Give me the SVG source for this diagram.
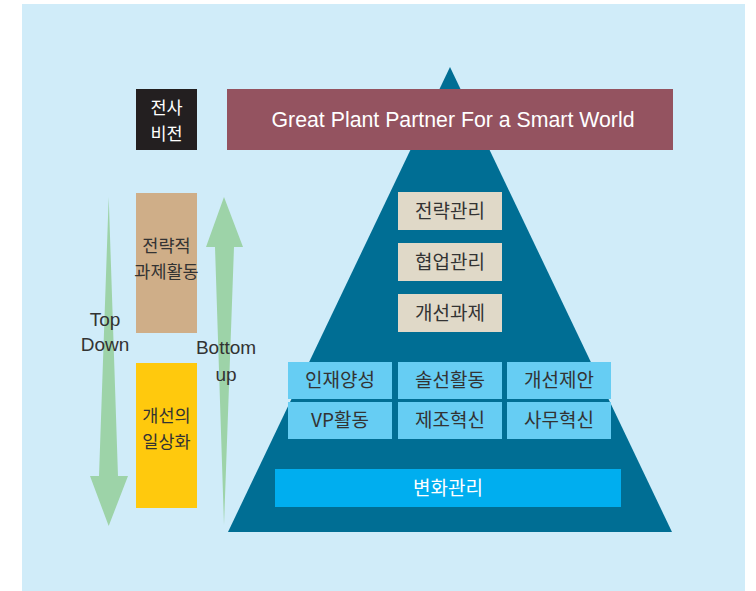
<svg xmlns="http://www.w3.org/2000/svg" width="756" height="591" viewBox="0 0 756 591">
<style>
.k{font-family:"Noto Sans CJK KR","Noto Sans",sans-serif;font-size:19px;text-anchor:middle;fill:#333}
.s{font-size:17.5px}
.l{font-family:"Liberation Sans","Noto Sans CJK KR",sans-serif;font-size:19px;text-anchor:middle;fill:#333}
.w{fill:#fff}
.arr{fill:#9dd3a8}
.beige{fill:#e0d9c8}
.cell{fill:#66cdf3}
</style>
<rect x="0" y="0" width="756" height="591" fill="#fff"/>
<rect x="22" y="4" width="723" height="587" fill="#d0ecf9"/>
<g id="pyramid"><polygon points="450,67 672,532 228,532" fill="#006e94"/></g>
<g id="vision-label"><rect x="136" y="89" width="61" height="61" fill="#231f20"/>
<text class="k s w" x="166.5" y="114">전사</text><text class="k s w" x="166.5" y="140">비전</text></g>
<g id="vision"><rect x="227" y="89" width="446" height="61" fill="#945360"/>
<text class="l w" x="453" y="127" style="font-size:21.3px">Great Plant Partner For a Smart World</text></g>
<g id="strategic"><rect x="136" y="193" width="61" height="140" fill="#cfae88"/>
<text class="k s" x="166.5" y="252">전략적</text><text class="k s" x="166.5" y="278">과제활동</text></g>
<g id="daily"><rect x="136" y="363" width="61" height="145" fill="#ffc90d"/>
<text class="k s" x="166.5" y="422">개선의</text><text class="k s" x="166.5" y="448">일상화</text></g>
<g id="connectors">
<polygon class="arr" points="108.7,197 118,476 128,476 108.7,526 90,476 99,476"/>
<polygon class="arr" points="224,197 243,247 234,247 224,525 215,247 206,247"/>
</g>
<g id="topdown-label"><text class="l" x="105" y="326">Top</text><text class="l" x="105" y="351">Down</text></g>
<g id="bottomup-label"><text class="l" x="226" y="354">Bottom</text><text class="l" x="226" y="381">up</text></g>
<g id="n1"><rect class="beige" x="398" y="192" width="104" height="38"/><text class="k" x="450" y="218">전략관리</text></g>
<g id="n2"><rect class="beige" x="398" y="243" width="104" height="38"/><text class="k" x="450" y="269">협업관리</text></g>
<g id="n3"><rect class="beige" x="398" y="294" width="104" height="38"/><text class="k" x="450" y="320">개선과제</text></g>
<g id="c1"><rect class="cell" x="288" y="362" width="104" height="37"/><text class="k" x="340" y="387">인재양성</text></g>
<g id="c2"><rect class="cell" x="398" y="362" width="104" height="37"/><text class="k" x="450" y="387">솔선활동</text></g>
<g id="c3"><rect class="cell" x="507" y="362" width="104" height="37"/><text class="k" x="559" y="387">개선제안</text></g>
<g id="c4"><rect class="cell" x="288" y="402" width="104" height="37"/><text class="k" x="340" y="427">VP활동</text></g>
<g id="c5"><rect class="cell" x="398" y="402" width="104" height="37"/><text class="k" x="450" y="427">제조혁신</text></g>
<g id="c6"><rect class="cell" x="507" y="402" width="104" height="37"/><text class="k" x="559" y="427">사무혁신</text></g>
<g id="change"><rect x="275" y="469" width="346" height="38" fill="#00aeef"/><text class="k w" x="448" y="495">변화관리</text></g>
</svg>
